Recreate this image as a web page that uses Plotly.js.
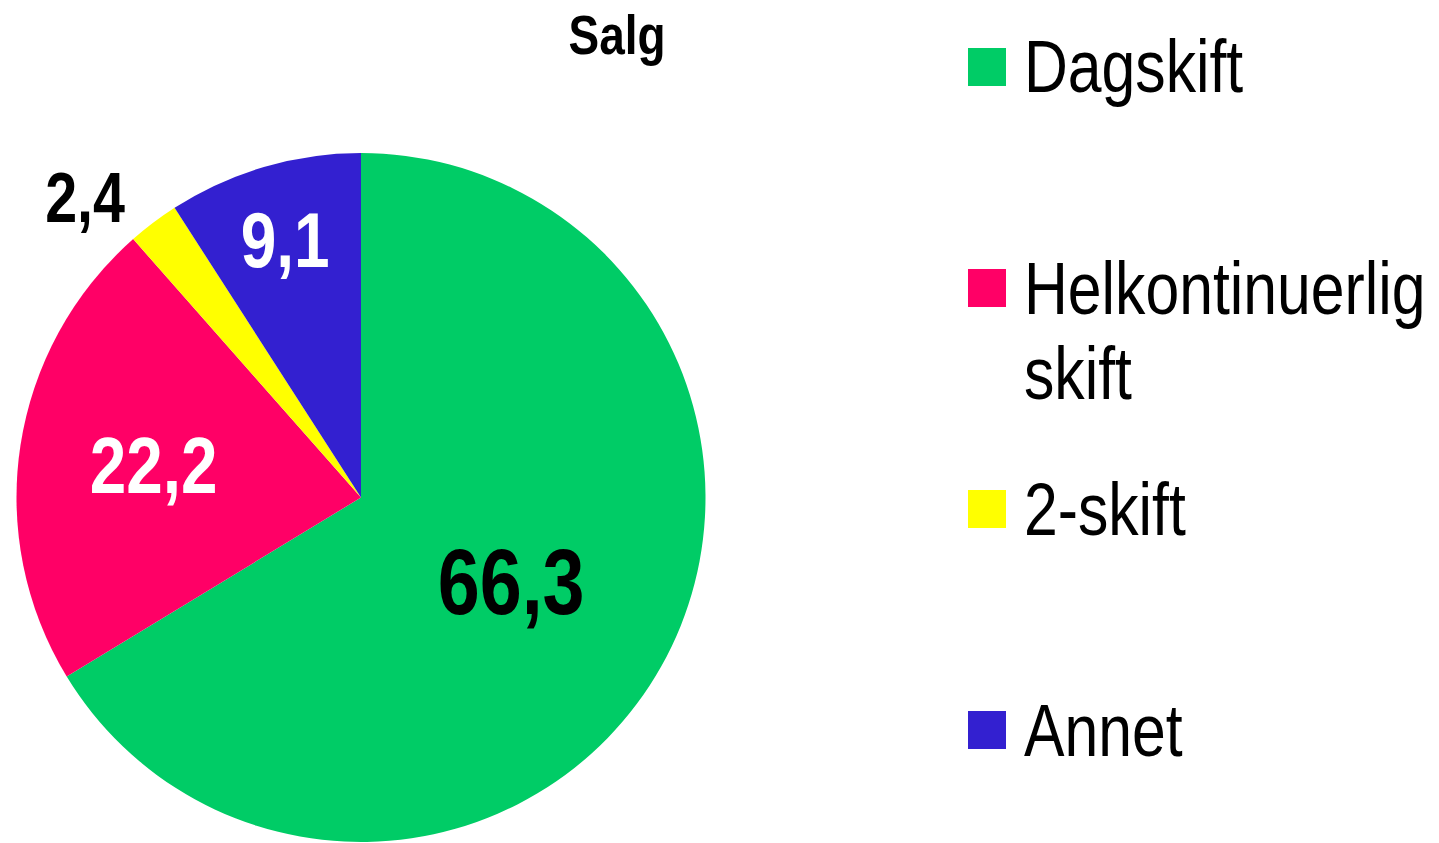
<!DOCTYPE html>
<html>
<head>
<meta charset="utf-8">
<script src="https://cdn.plot.ly/plotly-3.0.1.min.js"></script>
<style>html,body{margin:0;padding:0;background:#fff;}#chart{width:1439px;height:843px;}</style>
</head>
<body>
<div id="chart"></div>
<script>
// Data
const categories = ['Dagskift', 'Helkontinuerlig skift', '2-skift', 'Annet'];
const values = [66.3, 22.2, 2.4, 9.1];
const sliceColors = ['#00CC66', '#FF0066', '#FFFF00', '#3320D0'];
const labelColors = ['#000000', '#FFFFFF', '#000000', '#FFFFFF'];
const labelSizes = [92, 80, 70, 78];
const textPositions = ['inside', 'inside', 'outside', 'inside'];
const chartTitle = 'Salg';

const FONT = '"Liberation Sans", Arial, sans-serif';
const NARROW = 0.82; // narrow-face look
const W = 1439, H = 843;

const valueText = values.map(v => v.toFixed(1).replace('.', ','));

const trace = {
  type: 'pie',
  labels: categories,
  values: values,
  text: valueText,
  textinfo: 'text',
  textposition: textPositions,
  insidetextorientation: 'horizontal',
  sort: false,
  direction: 'clockwise',
  rotation: 0,
  marker: {colors: sliceColors, line: {width: 0}},
  textfont: {family: FONT, size: labelSizes, color: labelColors, weight: 'bold'},
  insidetextfont: {family: FONT, size: labelSizes, color: labelColors, weight: 'bold'},
  outsidetextfont: {family: FONT, size: labelSizes, color: '#000000', weight: 'bold'},
  showlegend: false,
  hoverinfo: 'none',
  domain: {x: [16 / W, 706 / W], y: [1 - 842 / H, 1 - 153 / H]}
};

// custom legend (large square swatches)
const shapes = [];
const annotations = [];
const legY0 = 67, legStep = 221, sq = 38, lineStep = 85;
categories.forEach((c, i) => {
  const yc = legY0 + legStep * i;
  shapes.push({
    type: 'rect', xref: 'paper', yref: 'paper',
    x0: 968 / W, x1: (968 + sq) / W,
    y0: 1 - (yc + sq / 2) / H, y1: 1 - (yc - sq / 2) / H,
    fillcolor: sliceColors[i], line: {width: 0}
  });
  const lines = c.replace('Helkontinuerlig ', 'Helkontinuerlig\n').split('\n');
  lines.forEach((ln, j) => {
    annotations.push({
      xref: 'paper', yref: 'paper',
      x: 1022 / W, y: 1 - (yc + j * lineStep) / H,
      xanchor: 'left', yanchor: 'middle', align: 'left',
      width: 412,
      text: ln, showarrow: false,
      font: {family: FONT, size: 74, color: '#000000'}
    });
  });
});

const layout = {
  width: W, height: H,
  margin: {l: 0, r: 0, t: 0, b: 0},
  paper_bgcolor: '#FFFFFF',
  plot_bgcolor: '#FFFFFF',
  showlegend: false,
  title: {
    text: chartTitle,
    x: 617 / W, xanchor: 'center', xref: 'paper',
    y: 1 - 34 / H, yanchor: 'middle', yref: 'container',
    font: {family: FONT, size: 56, color: '#000000', weight: 'bold'}
  },
  shapes: shapes,
  annotations: annotations
};

Plotly.newPlot('chart', [trace], layout, {displayModeBar: false, staticPlot: true}).then(gd => {
  // condense glyphs horizontally to mimic the narrow typeface
  gd.querySelectorAll('svg text').forEach(t => {
    const len = t.getComputedTextLength();
    if (len > 0 && t.textContent.trim().length) {
      t.setAttribute('textLength', (len * NARROW).toFixed(1));
      t.setAttribute('lengthAdjust', 'spacingAndGlyphs');
    }
  });
});
</script>
</body>
</html>
